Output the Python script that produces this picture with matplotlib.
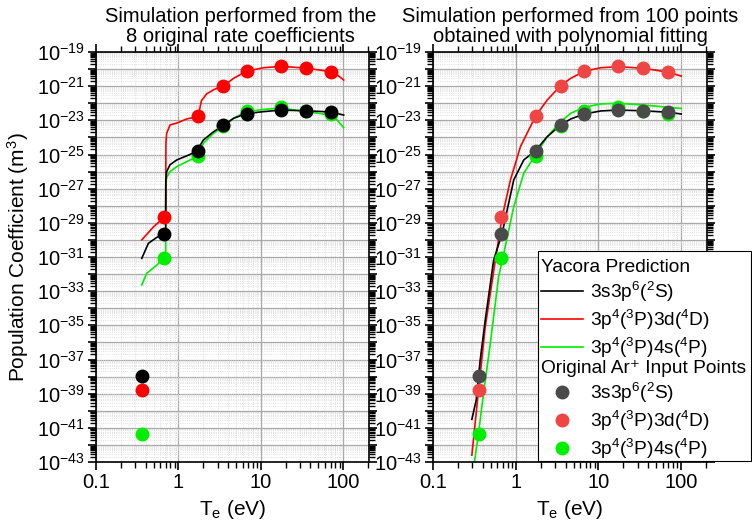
import matplotlib
matplotlib.use("Agg")
import matplotlib.pyplot as plt
from matplotlib import ticker
from matplotlib.lines import Line2D
from matplotlib.patches import Rectangle
import numpy as np

plt.rcParams["font.family"] = ["Liberation Sans", "DejaVu Sans"]
plt.rcParams["mathtext.fontset"] = "custom"
plt.rcParams["mathtext.rm"] = "Liberation Sans"
plt.rcParams["mathtext.it"] = "Liberation Sans:italic"
plt.rcParams["mathtext.default"] = "regular"

# ---------------------------------------------------------------------------
# Original Ar+ input points (same set on both panels)
# ---------------------------------------------------------------------------
T_pts = [0.36, 0.67, 1.75, 3.5, 6.7, 17.4, 35.0, 70.0]
pts_2S = [1.07e-38, 2.2e-30, 1.66e-25, 5.3e-24, 2.45e-23, 4.0e-23, 3.6e-23, 3.1e-23]
pts_4D = [1.6e-39, 2.1e-29, 1.7e-23, 1.07e-21, 7.4e-21, 1.45e-20, 1.15e-20, 7.1e-21]
pts_4P = [4.3e-42, 9.0e-32, 8.1e-26, 4.5e-24, 3.5e-23, 5.8e-23, 3.6e-23, 2.3e-23]

# Yacora prediction from the 8 original rate coefficients (log10 values)
T_a_4D = [0.359, 0.50, 0.67, 0.70, 0.705, 0.72, 0.79, 0.955, 1.26, 1.75, 1.80,
          1.90, 2.2, 2.7, 3.57, 4.67, 6.65, 10.8, 17.4, 35.0, 70.0, 85.0, 101.0]
lg_a_4D = [-30.0, -29.23, -28.68, -28.55, -24.3, -23.76, -23.27, -23.16, -22.92,
           -22.77, -22.4, -21.85, -21.45, -21.2, -20.97, -20.54, -20.13, -19.92,
           -19.84, -19.94, -20.15, -20.35, -20.64]

T_a_2S = [0.359, 0.432, 0.547, 0.67, 0.70, 0.703, 0.72, 0.79, 0.955, 1.33, 1.75,
          1.84, 2.01, 2.66, 3.57, 4.67, 6.65, 10.8, 17.4, 35.0, 70.0, 101.0]
lg_a_2S = [-31.08, -30.2, -29.85, -29.66, -29.55, -26.49, -26.0, -25.6, -25.32,
           -25.03, -24.78, -24.45, -24.15, -23.67, -23.27, -22.88, -22.61, -22.49,
           -22.40, -22.44, -22.51, -22.69]

T_a_4P = [0.359, 0.412, 0.547, 0.67, 0.70, 0.703, 0.72, 0.79, 0.955, 1.39, 1.75,
          1.84, 2.01, 2.66, 3.57, 4.67, 6.65, 10.8, 17.4, 35.0, 70.0, 84.0, 101.0]
lg_a_4P = [-32.64, -31.96, -31.47, -31.04, -30.9, -26.79, -26.35, -26.0, -25.71,
           -25.32, -25.09, -24.7, -24.35, -23.76, -23.35, -22.88, -22.5, -22.36,
           -22.28, -22.49, -22.69, -22.98, -23.43]

# Yacora prediction from 100 points of the polynomial fit (log10 values)
T_b_4D = [0.295, 0.355, 0.428, 0.567, 0.684, 0.863, 1.14, 1.73, 2.40, 3.49, 4.62,
          6.7, 10.7, 17.1, 34.9, 71.0, 100.0]
lg_b_4D = [-42.6, -38.79, -35.08, -31.18, -28.68, -26.49, -24.54, -22.77, -21.81,
           -20.97, -20.54, -20.13, -19.92, -19.86, -19.95, -20.19, -20.41]

T_b_2S = [0.295, 0.333, 0.372, 0.428, 0.541, 0.684, 0.946, 1.25, 1.73, 2.40, 3.49,
          4.62, 6.7, 10.7, 17.1, 34.9, 71.0, 100.0]
lg_b_2S = [-40.5, -39.37, -37.03, -34.69, -31.18, -29.62, -26.49, -25.32, -24.78,
           -23.96, -23.27, -22.92, -22.63, -22.45, -22.40, -22.44, -22.53, -22.63]

T_b_4P = [0.31, 0.355, 0.408, 0.493, 0.621, 0.703, 0.946, 1.25, 1.73, 2.40, 3.49,
          4.62, 6.7, 10.7, 17.1, 34.9, 71.0, 100.0]
lg_b_4P = [-43.3, -41.33, -38.98, -36.06, -32.16, -30.98, -28.06, -26.1, -25.03,
           -23.96, -23.08, -22.59, -22.24, -22.04, -22.0, -22.1, -22.24, -22.30]

LABEL_2S = r"3s3p$^6$($^2$S)"
LABEL_4D = r"3p$^4$($^3$P)3d($^4$D)"
LABEL_4P = r"3p$^4$($^3$P)4s($^4$P)"

RED, GREEN, BLACK = "#ff0000", "#00ee00", "#000000"
PT_RED, PT_GRAY = "#f04545", "#4a4a4a"


def y_label(v, pos):
    e = int(round(np.log10(v)))
    return rf"$10^{{{e}}}$" if e % 2 else ""


def style_axes(ax):
    ax.set_xscale("log")
    ax.set_yscale("log")
    ax.set_xlim(0.1, 205)
    ax.set_ylim(1e-43, 1e-19)
    ax.xaxis.set_major_locator(ticker.FixedLocator([0.1, 1, 10, 100]))
    ax.xaxis.set_major_formatter(ticker.FuncFormatter(lambda v, p: f"{v:g}"))
    ax.xaxis.set_minor_locator(ticker.LogLocator(10, subs=np.arange(2, 10), numticks=20))
    ax.xaxis.set_minor_formatter(ticker.NullFormatter())
    ax.yaxis.set_major_locator(ticker.LogLocator(10, numticks=40))
    ax.yaxis.set_major_formatter(ticker.FuncFormatter(y_label))
    ax.yaxis.set_minor_locator(ticker.LogLocator(10, subs=np.arange(2, 10), numticks=40))
    ax.yaxis.set_minor_formatter(ticker.NullFormatter())
    ax.tick_params(which="both", direction="out", top=True, right=True,
                   labelsize=14.5, pad=2)
    ax.tick_params(which="major", length=6, width=1.2)
    ax.tick_params(which="minor", length=4, width=1.0)
    for sp in ax.spines.values():
        sp.set_linewidth(1.2)
    ax.set_axisbelow(True)
    ax.grid(which="major", color="#a8a8a8", lw=0.9)
    ax.grid(which="minor", color="#d6d6d6", lw=0.6, ls=":")
    ax.set_xlabel(r"T$_e$ (eV)", fontsize=15, labelpad=4)


def lin(lg):
    return 10.0 ** np.asarray(lg)


fig = plt.figure(figsize=(7.52, 5.26), dpi=100)
ax1 = fig.add_axes([96 / 752, 64 / 526, 273 / 752, 410 / 526])
ax2 = fig.add_axes([433 / 752, 64 / 526, 274 / 752, 410 / 526])

# -- left panel: original rate coefficients ---------------------------------
style_axes(ax1)
ax1.plot(T_a_4P, lin(lg_a_4P), color=GREEN, lw=1.2, zorder=2)
ax1.plot(T_a_4D, lin(lg_a_4D), color=RED, lw=1.2, zorder=2)
ax1.plot(T_a_2S, lin(lg_a_2S), color=BLACK, lw=1.2, zorder=2)
ax1.plot(T_pts, pts_4P, "o", color=GREEN, ms=9, zorder=3)
ax1.plot(T_pts, pts_4D, "o", color=RED, ms=9, zorder=3)
ax1.plot(T_pts, pts_2S, "o", color=BLACK, ms=9, zorder=3)
ax1.set_ylabel(r"Population Coefficient (m$^3$)", fontsize=15, labelpad=4)
ax1.set_title("Simulation performed from the\n8 original rate coefficients",
              fontsize=14.5, pad=7, x=0.53, linespacing=1.1)

# -- right panel: polynomial fit ---------------------------------------------
style_axes(ax2)
ax2.plot(T_b_4P, lin(lg_b_4P), color=GREEN, lw=1.2, zorder=2)
ax2.plot(T_b_4D, lin(lg_b_4D), color=RED, lw=1.2, zorder=2)
ax2.plot(T_b_2S, lin(lg_b_2S), color=BLACK, lw=1.2, zorder=2)
ax2.plot(T_pts, pts_4P, "o", color=GREEN, ms=9, zorder=3)
ax2.plot(T_pts, pts_4D, "o", color=PT_RED, ms=9, zorder=3)
ax2.plot(T_pts, pts_2S, "o", color=PT_GRAY, ms=9, zorder=3)
ax2.set_title("Simulation performed from 100 points\nobtained with polynomial fitting",
              fontsize=14.5, pad=7, linespacing=1.1)

# -- legend: white box with two headed groups -------------------------------
fig.add_artist(Rectangle((538 / 752, 65 / 526), 213 / 752, 210 / 526,
                         transform=fig.transFigure, facecolor="white",
                         edgecolor="black", lw=0.8, zorder=4))

line_handles = [Line2D([], [], color=c, lw=1.2) for c in (BLACK, RED, GREEN)]
pt_handles = [Line2D([], [], ls="none", marker="o", ms=9, color=c)
              for c in (PT_GRAY, PT_RED, GREEN)]
labels = [LABEL_2S, LABEL_4D, LABEL_4P]
leg_kw = dict(loc="upper left", frameon=False, alignment="left", fontsize=13.8,
              title_fontsize=13.8, handlelength=2.2, handletextpad=0.35,
              labelspacing=0.2, borderpad=0.1, borderaxespad=0)
fig.legend(line_handles, labels, title="Yacora Prediction",
           bbox_to_anchor=(539 / 752, 1 - 257 / 526), **leg_kw)
fig.legend(pt_handles, labels, title="Original Ar\u207a Input Points",
           bbox_to_anchor=(539 / 752, 1 - 358 / 526), **leg_kw)

fig.savefig("out.png", dpi=100)
